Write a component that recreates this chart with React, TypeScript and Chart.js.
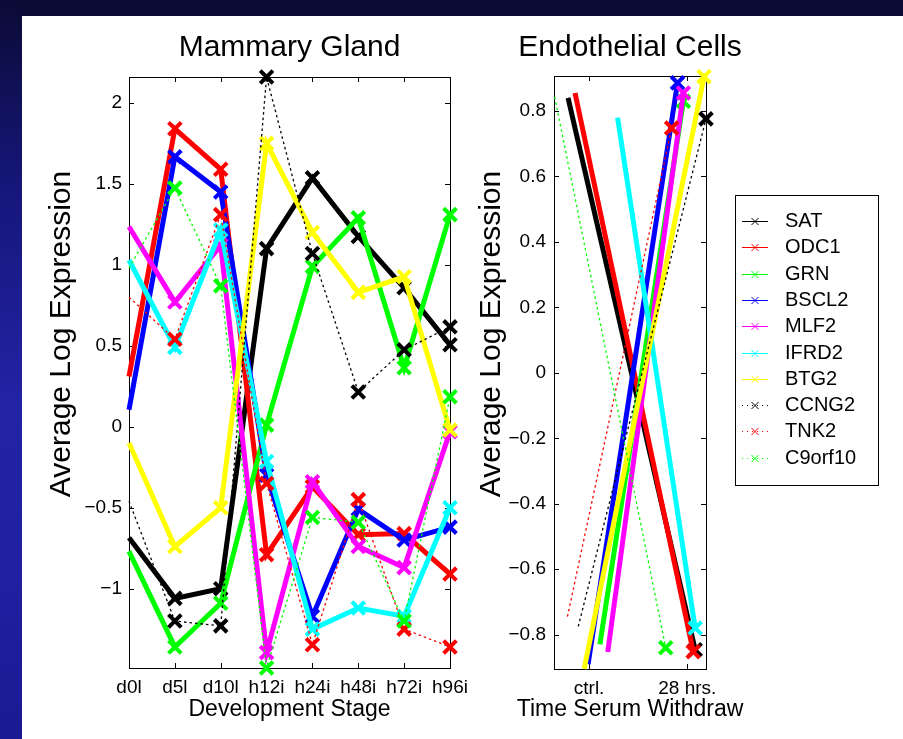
import React, { useEffect, useRef } from 'react';
import { Chart, registerables } from 'chart.js';

Chart.register(...registerables);

const FONT = "'Liberation Sans', Arial, Helvetica, sans-serif";

// ---------- data ----------
const genes = ['SAT', 'ODC1', 'GRN', 'BSCL2', 'MLF2', 'IFRD2', 'BTG2', 'CCNG2', 'TNK2', 'C9orf10'];
const geneColors = ['#000000', '#ff0000', '#00ff00', '#0000ff', '#ff00ff', '#00ffff', '#ffff00', '#000000', '#ff0000', '#00ff00'];
const geneDotted = [false, false, false, false, false, false, false, true, true, true];

const stages = ['d0l', 'd5l', 'd10l', 'h12i', 'h24i', 'h48i', 'h72i', 'h96i'];
const satMammary = [-0.685, -1.06, -1.0, 1.1, 1.537, 1.175, 0.858, 0.506];
const odc1Mammary = [0.31, 1.84, 1.59, -0.79, -0.37, -0.667, -0.66, -0.91];
const grnMammary = [-0.77, -1.36, -1.09, 0.01, 0.99, 1.29, 0.364, 1.31];
const bscl2Mammary = [0.105, 1.667, 1.45, -0.3, -1.17, -0.51, -0.7, -0.62];
const mlf2Mammary = [1.235, 0.77, 1.12, -1.395, -0.34, -0.74, -0.87, -0.03];
const ifrd2Mammary = [1.03, 0.49, 1.215, -0.215, -1.25, -1.12, -1.17, -0.5];
const btg2Mammary = [-0.1, -0.74, -0.5, 1.75, 1.2, 0.83, 0.926, -0.02];
const ccng2Mammary = [-0.46, -1.2, -1.23, 2.16, 1.07, 0.215, 0.475, 0.617];
const tnk2Mammary = [0.8, 0.54, 1.31, -0.35, -1.346, -0.45, -1.25, -1.36];
const c9orf10Mammary = [0.98, 1.475, 0.87, -1.49, -0.56, -0.59, -1.2, 0.185];
const mammaryValues = [satMammary, odc1Mammary, grnMammary, bscl2Mammary, mlf2Mammary, ifrd2Mammary, btg2Mammary, ccng2Mammary, tnk2Mammary, c9orf10Mammary];
const mammaryYTicks = [-1, -0.5, 0, 0.5, 1, 1.5, 2];

const endoTicks = [1, 2];
const endoTickLabels = ['ctrl.', '28 hrs.'];
const endoCtrlX = [0.786, 0.857, 1.11, 0.99, 1.19, 1.29, 0.95, 0.89, 0.78, 0.65];
const endoCtrlY = [0.84, 0.855, -0.83, -0.89, -0.853, 0.78, -0.905, -0.775, -0.745, 0.843];
const endoLateX = [2.08, 2.06, 1.96, 1.9, 1.96, 2.08, 2.17, 2.19, 1.84, 1.78];
const endoLateY = [-0.846, -0.852, 0.83, 0.886, 0.855, -0.78, 0.905, 0.776, 0.748, -0.84];
const endoYTicks = [-0.8, -0.6, -0.4, -0.2, 0, 0.2, 0.4, 0.6, 0.8];

// ---------- helpers ----------
const fmtTick = (v: number) => (v < 0 ? '\u2212' + String(Math.abs(v)) : String(v));

type FrameText = {
  title: string;
  titleY: number;
  xTitle: string;
  xTitleY: number;
  yTitle: string;
  yTitleX: number;
  yTitleY: number;
};

function makeFrame(t: FrameText) {
  return {
    id: 'frame_' + t.title.replace(/\s/g, ''),
    beforeDatasetsDraw(chart: any) {
      const { ctx, chartArea } = chart;
      const { left, right, top, bottom } = chartArea;
      ctx.save();
      ctx.strokeStyle = '#000';
      ctx.lineWidth = 1;
      ctx.strokeRect(Math.round(left) + 0.5, Math.round(top) + 0.5, Math.round(right - left), Math.round(bottom - top));
      const xs = chart.scales.x;
      const ys = chart.scales.y;
      const tl = 5;
      ctx.beginPath();
      xs.ticks.forEach((_t: any, i: number) => {
        const px = Math.round(xs.getPixelForTick(i)) + 0.5;
        ctx.moveTo(px, bottom);
        ctx.lineTo(px, bottom - tl);
        ctx.moveTo(px, top);
        ctx.lineTo(px, top + tl);
      });
      ys.ticks.forEach((_t: any, i: number) => {
        const py = Math.round(ys.getPixelForTick(i)) + 0.5;
        ctx.moveTo(left, py);
        ctx.lineTo(left + tl, py);
        ctx.moveTo(right, py);
        ctx.lineTo(right - tl, py);
      });
      ctx.stroke();
      ctx.restore();
    },
    afterDraw(chart: any) {
      const { ctx, chartArea } = chart;
      const cx = (chartArea.left + chartArea.right) / 2;
      ctx.save();
      ctx.fillStyle = '#000';
      ctx.textAlign = 'center';
      ctx.textBaseline = 'middle';
      ctx.font = '30px ' + FONT;
      ctx.fillText(t.title, cx, t.titleY);
      ctx.font = '23px ' + FONT;
      ctx.fillText(t.xTitle, cx, t.xTitleY);
      ctx.translate(t.yTitleX, t.yTitleY);
      ctx.rotate(-Math.PI / 2);
      ctx.font = '30px ' + FONT;
      ctx.fillText(t.yTitle, 0, 0);
      ctx.restore();
    },
  };
}

const CANVAS_R_LEFT = 470;

const boxLegend = {
  id: 'boxLegend',
  afterDraw(chart: any) {
    const ctx = chart.ctx;
    const ox = 735 - CANVAS_R_LEFT;
    const oy = 195;
    const w = 143;
    const h = 290;
    ctx.save();
    ctx.fillStyle = '#fff';
    ctx.fillRect(ox, oy, w, h);
    ctx.strokeStyle = '#000';
    ctx.lineWidth = 1;
    ctx.strokeRect(ox + 0.5, oy + 0.5, w, h);
    chart.data.datasets.forEach((ds: any, i: number) => {
      const y = Math.round(oy + 26 + i * 26.3) + 0.5;
      ctx.strokeStyle = ds.borderColor;
      ctx.lineWidth = 1;
      ctx.setLineDash(ds.borderWidth < 2 ? [1, 4] : []);
      ctx.beginPath();
      ctx.moveTo(ox + 7, y);
      ctx.lineTo(ox + 33, y);
      ctx.stroke();
      ctx.setLineDash([]);
      const cx = ox + 20;
      const s = 3.5;
      ctx.beginPath();
      ctx.moveTo(cx - s, y - s);
      ctx.lineTo(cx + s, y + s);
      ctx.moveTo(cx - s, y + s);
      ctx.lineTo(cx + s, y - s);
      ctx.stroke();
      ctx.fillStyle = '#000';
      ctx.font = '20px ' + FONT;
      ctx.textAlign = 'left';
      ctx.textBaseline = 'middle';
      ctx.fillText(ds.label, ox + 50, y);
    });
    ctx.restore();
  },
};

function baseDataset(i: number) {
  return {
    label: genes[i],
    borderColor: geneColors[i],
    backgroundColor: geneColors[i],
    borderWidth: geneDotted[i] ? 1.3 : 5,
    borderDash: geneDotted[i] ? [2.5, 3] : [],
    pointStyle: 'crossRot',
    pointBorderColor: geneColors[i],
    pointBackgroundColor: geneColors[i],
    pointBorderWidth: 4,
    pointHoverRadius: 9,
    tension: 0,
    fill: false,
    clip: false as any,
    order: 10 - i,
  };
}

const tickFont = { size: 19, family: FONT };
const noPadX = (h: number) => (s: any) => { s.height = h; s.paddingLeft = 0; s.paddingRight = 0; };
const noPadY = (w: number) => (s: any) => { s.width = w; s.paddingTop = 0; s.paddingBottom = 0; };

export default function App() {
  const leftRef = useRef<HTMLCanvasElement>(null);
  const rightRef = useRef<HTMLCanvasElement>(null);

  useEffect(() => {
    const left = new Chart(leftRef.current as HTMLCanvasElement, {
      type: 'line',
      data: {
        labels: stages,
        datasets: genes.map((_g, i) => ({
          ...baseDataset(i),
          data: mammaryValues[i],
          pointRadius: mammaryValues[i].map((_v, j) => (j === 0 ? 0 : 9)),
        })) as any,
      },
      options: {
        animation: false,
        responsive: false,
        events: [],
        layout: { padding: { top: 77, right: 20, left: 0, bottom: 0 } },
        plugins: { legend: { display: false }, tooltip: { enabled: false }, title: { display: false } },
        scales: {
          x: {
            type: 'category',
            offset: false,
            grid: { display: false, drawTicks: false },
            border: { display: false },
            ticks: { color: '#000', font: tickFont, padding: 8, autoSkip: false, maxRotation: 0, minRotation: 0 },
            title: { display: false },
            afterFit: noPadX(71),
          },
          y: {
            type: 'linear',
            min: -1.49,
            max: 2.16,
            afterBuildTicks: (s: any) => { s.ticks = mammaryYTicks.map((v) => ({ value: v })); },
            grid: { display: false, drawTicks: false },
            border: { display: false },
            ticks: { color: '#000', font: tickFont, padding: 7, callback: (v: any) => fmtTick(Number(v)) },
            title: { display: false },
            afterFit: noPadY(129),
          },
        },
      } as any,
      plugins: [makeFrame({
        title: 'Mammary Gland', titleY: 48,
        xTitle: 'Development Stage', xTitleY: 710,
        yTitle: 'Average Log Expression', yTitleX: 62, yTitleY: 334,
      })],
    });

    const right = new Chart(rightRef.current as HTMLCanvasElement, {
      type: 'line',
      data: {
        datasets: genes.map((_g, i) => ({
          ...baseDataset(i),
          data: [
            { x: endoCtrlX[i], y: endoCtrlY[i] },
            { x: endoLateX[i], y: endoLateY[i] },
          ],
          pointRadius: [0, 9],
        })) as any,
      },
      options: {
        animation: false,
        responsive: false,
        events: [],
        layout: { padding: { top: 76, right: 197, left: 0, bottom: 0 } },
        plugins: { legend: { display: false }, tooltip: { enabled: false }, title: { display: false } },
        scales: {
          x: {
            type: 'linear',
            min: 0.643,
            max: 2.19,
            afterBuildTicks: (s: any) => { s.ticks = endoTicks.map((v) => ({ value: v })); },
            grid: { display: false, drawTicks: false },
            border: { display: false },
            ticks: {
              color: '#000', font: tickFont, padding: 8, autoSkip: false, maxRotation: 0, minRotation: 0,
              callback: (v: any) => endoTickLabels[endoTicks.indexOf(Number(v))],
            },
            title: { display: false },
            afterFit: noPadX(70),
          },
          y: {
            type: 'linear',
            min: -0.905,
            max: 0.907,
            afterBuildTicks: (s: any) => { s.ticks = endoYTicks.map((v) => ({ value: v })); },
            grid: { display: false, drawTicks: false },
            border: { display: false },
            ticks: { color: '#000', font: tickFont, padding: 8, callback: (v: any) => fmtTick(Number(v)) },
            title: { display: false },
            afterFit: noPadY(84),
          },
        },
      } as any,
      plugins: [makeFrame({
        title: 'Endothelial Cells', titleY: 48,
        xTitle: 'Time Serum Withdraw', xTitleY: 710,
        yTitle: 'Average Log Expression', yTitleX: 492 - CANVAS_R_LEFT, yTitleY: 334,
      }), boxLegend],
    });

    return () => {
      left.destroy();
      right.destroy();
    };
  }, []);

  return (
    <div style={{ position: 'absolute', left: 0, top: 0, width: 903, height: 739, background: '#ffffff', overflow: 'hidden' }}>
      <div style={{ position: 'absolute', left: 0, top: 0, width: 903, height: 16, background: '#0b0b36' }} />
      <div
        style={{
          position: 'absolute', left: 0, top: 0, width: 22, height: 739,
          background: 'linear-gradient(to bottom, #0b0b36 0%, #16167a 25%, #2323a6 55%, #1f1fa0 80%, #1a1a94 100%)',
        }}
      />
      <canvas ref={leftRef} width={470} height={739} style={{ position: 'absolute', left: 0, top: 0, width: 470, height: 739 }} />
      <canvas ref={rightRef} width={433} height={739} style={{ position: 'absolute', left: CANVAS_R_LEFT, top: 0, width: 433, height: 739 }} />
    </div>
  );
}
